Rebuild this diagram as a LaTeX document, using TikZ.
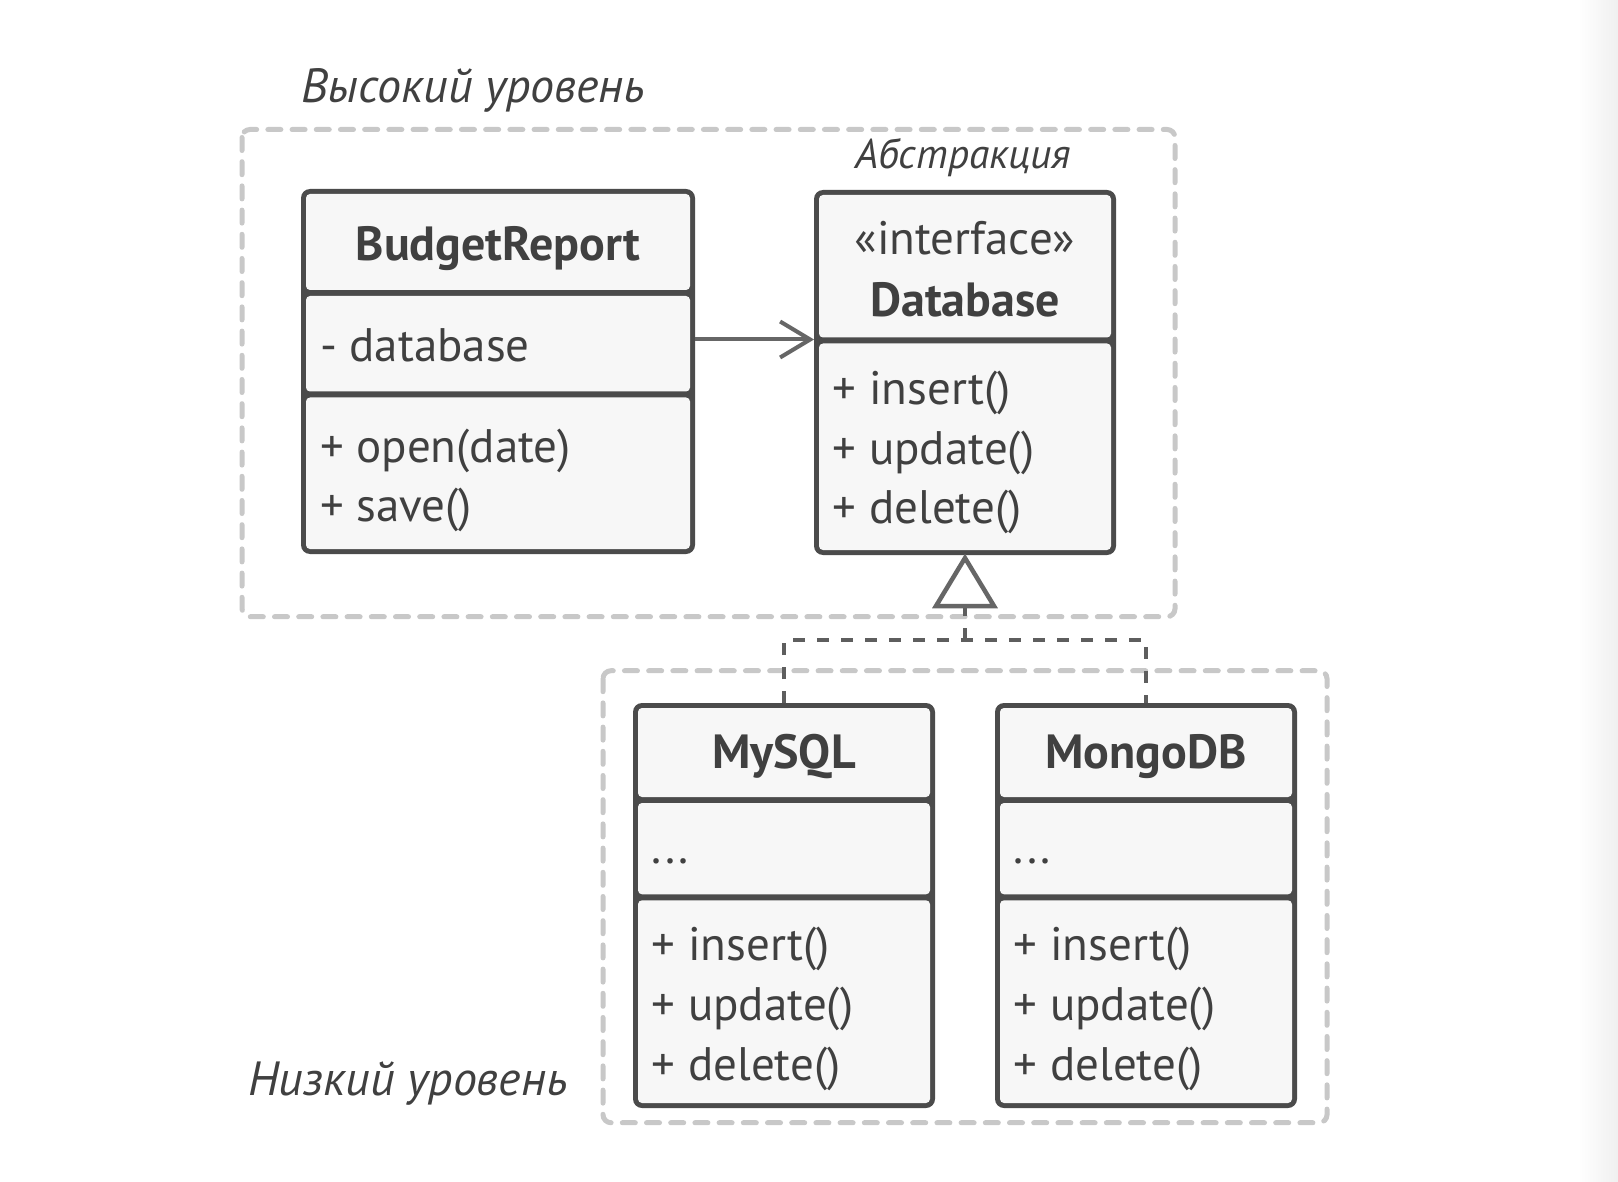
\documentclass[tikz,border=0pt]{standalone}
\usepackage{fontspec}
\setmainfont{PT Sans}
\usetikzlibrary{arrows.meta}
\definecolor{boxdark}{HTML}{4B4B4B}
\definecolor{compfill}{HTML}{F7F7F7}
\definecolor{txt}{HTML}{404040}
\definecolor{dashbox}{HTML}{C8C8C8}
\definecolor{conn}{HTML}{666666}
\definecolor{realc}{HTML}{5E5E5E}
\tikzset{
  outerbox/.style={draw=none, fill=boxdark, rounded corners=9pt, inner sep=0pt, outer sep=0pt},
  comp/.style={fill=compfill, rounded corners=4pt},
  ttl/.style={anchor=base, inner sep=0pt, text=txt, font=\bfseries\fontsize{48}{54}\selectfont},
  stereo/.style={anchor=base, inner sep=0pt, text=txt, font=\fontsize{47}{54}\selectfont},
  mem/.style={anchor=base west, inner sep=0pt, text=txt, font=\fontsize{47}{54}\selectfont},
  lbl/.style={anchor=base west, inner sep=0pt, text=txt, font=\itshape\fontsize{48}{54}\selectfont},
  lblsmall/.style={anchor=base west, inner sep=0pt, text=txt, font=\itshape\fontsize{41.5}{48}\selectfont},
  levelbox/.style={draw=dashbox, line width=5pt, dash pattern=on 13pt off 11.2pt, line cap=round, rounded corners=8pt},
  assoc/.style={draw=conn, line width=4pt, -{Straight Barb[length=30pt,width=36pt,line width=4pt]}},
  realize/.style={draw=realc, line width=4.5pt, dash pattern=on 12pt off 12pt},
}
\begin{document}
\begin{tikzpicture}[x=1pt,y=-1pt]
\useasboundingbox (0,0) rectangle (1618,1182);
\fill[white] (0,0) rectangle (1618,1182);
\shade[left color=white, right color=black!6, draw=none] (1578,0) rectangle (1618,1182);

% level frames
\draw[levelbox] (242,129.5) rectangle (1175,616.7);
\draw[levelbox] (603,670.7) rectangle (1327,1122.7);
\node[lbl] (hilbl) at (301,103) {Высокий уровень};
\node[lbl] (lolbl) at (248,1095) {Низкий уровень};
\node[lblsmall] (abslbl) at (855,169) {Абстракция};

% BudgetReport
\node[outerbox, minimum width=394pt, minimum height=365pt] (br) at (498,371.5) {};
\fill[comp] (306,194) rectangle (690,290);
\fill[comp] (306,296) rectangle (690,391.5);
\fill[comp] (306,397.5) rectangle (690,549);
\node[ttl] (brt) at (498,260.7) {BudgetReport};
\node[mem] (bra) at (320,361.7) {- database};
\node[mem] (brm1) at (320,462) {+ open(date)};
\node[mem] (brm2) at (320,521) {+ save()};

% Database
\node[outerbox, minimum width=302pt, minimum height=365pt] (db) at (965,372.5) {};
\fill[comp] (819,195) rectangle (1111,337.5);
\fill[comp] (819,343.5) rectangle (1111,550);
\node[stereo] (dbs) at (965,255) {«interface»};
\node[ttl] (dbt) at (965,316.7) {Database};
\node[mem] (dbm1) at (832.7,405) {+ insert()};
\node[mem] (dbm2) at (832.7,464) {+ update()};
\node[mem] (dbm3) at (832.7,523) {+ delete()};

% MySQL
\node[outerbox, minimum width=302pt, minimum height=405pt] (my) at (784,905.5) {};
\fill[comp] (638,708) rectangle (930,797);
\fill[comp] (638,803) rectangle (930,894.3);
\fill[comp] (638,900.3) rectangle (930,1103);
\node[ttl] (myt) at (784,768) {MySQL};
\node[mem] (mya) at (651.7,863) {...};
\node[mem] (mym1) at (651.7,960) {+ insert()};
\node[mem] (mym2) at (651.7,1020) {+ update()};
\node[mem] (mym3) at (651.7,1080) {+ delete()};

% MongoDB
\node[outerbox, minimum width=302pt, minimum height=405pt] (mg) at (1146,905.5) {};
\fill[comp] (1000,708) rectangle (1292,797);
\fill[comp] (1000,803) rectangle (1292,894.3);
\fill[comp] (1000,900.3) rectangle (1292,1103);
\node[ttl] (mgt) at (1146,768) {MongoDB};
\node[mem] (mga) at (1013.7,863) {...};
\node[mem] (mgm1) at (1013.7,960) {+ insert()};
\node[mem] (mgm2) at (1013.7,1020) {+ update()};
\node[mem] (mgm3) at (1013.7,1080) {+ delete()};

% association
\draw[assoc] ([yshift=32pt]br.east) -- ([yshift=32pt]br.east -| db.west);

% realization
\draw[realize] (my.north) -- ++(0,-63) coordinate (jl) -| (mg.north);
\coordinate (jc) at (jl -| db.south);
\draw[realize] (jc) -- ++(0,-34) coordinate (tb);
\draw[draw=conn, line width=4.5pt, fill=white, line join=miter] (tb) -- ++(-29,0) -- ([yshift=-3pt]db.south) -- ++(29,48) -- cycle;
\end{tikzpicture}
\end{document}
